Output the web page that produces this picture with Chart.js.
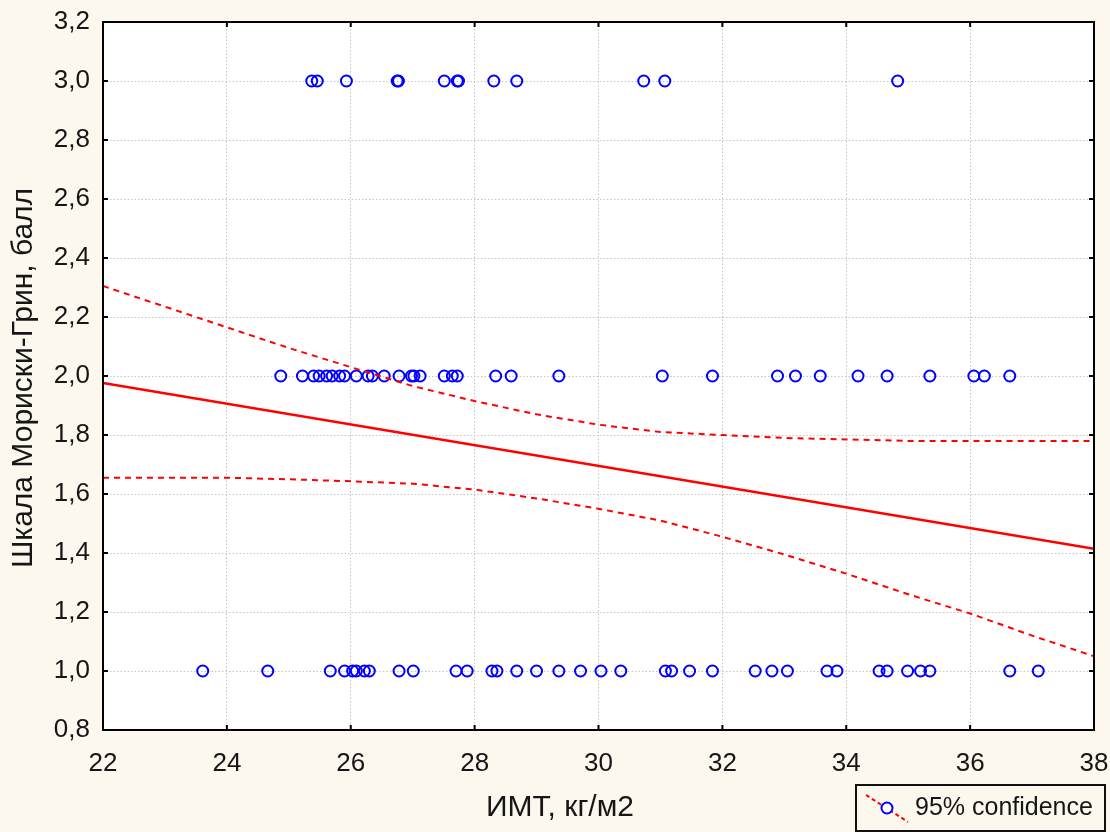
<!DOCTYPE html>
<html>
<head>
<meta charset="utf-8">
<script src="https://cdn.jsdelivr.net/npm/chart.js@4"></script>
<style>
  html, body { margin: 0; padding: 0; background: #fdf8ee; }
  #wrap { width: 1110px; height: 832px; }
</style>
</head>
<body>
<div id="wrap"><canvas id="myChart" width="1110" height="832"></canvas></div>
<script>
// BMI values of patients, grouped by Morisky-Green score
const bmiScore3 = [25.37, 25.46, 25.93, 26.75, 26.77, 27.51, 27.72, 27.74, 28.31, 28.68, 30.73, 31.07, 34.83];
const bmiScore2 = [24.87, 25.22, 25.40, 25.49, 25.61, 25.70, 25.82, 25.90, 26.09, 26.28, 26.35, 26.54, 26.78,
                   26.98, 27.02, 27.12, 27.51, 27.64, 27.72, 28.34, 28.59, 29.36, 31.03, 31.84, 32.89, 33.18,
                   33.58, 34.19, 34.66, 35.35, 36.06, 36.23, 36.64];
const bmiScore1 = [23.61, 24.66, 25.67, 25.90, 26.03, 26.09, 26.22, 26.30, 26.78, 27.01, 27.70, 27.88, 28.28,
                   28.36, 28.68, 29.00, 29.36, 29.71, 30.04, 30.36, 31.08, 31.18, 31.47, 31.84, 32.53, 32.80,
                   33.05, 33.69, 33.85, 34.53, 34.66, 34.99, 35.20, 35.35, 36.64, 37.10];

// regression line and 95% confidence band
const fitX = [22, 38];
const fitY = [1.976, 1.414];
const bandX = [22, 23, 24, 25, 26, 27, 28, 29, 30, 31, 32, 33, 34, 35, 36, 37, 38];
const upperY = [2.305, 2.235, 2.165, 2.095, 2.03, 1.966, 1.915, 1.87, 1.835, 1.81, 1.80, 1.79, 1.785, 1.78, 1.78, 1.78, 1.78];
const lowerY = [1.655, 1.655, 1.655, 1.65, 1.643, 1.635, 1.615, 1.585, 1.55, 1.51, 1.455, 1.395, 1.33, 1.26, 1.195, 1.12, 1.05];

// axis ticks
const xTicks = [22, 24, 26, 28, 30, 32, 34, 36, 38];
const yTicks = [0.8, 1.0, 1.2, 1.4, 1.6, 1.8, 2.0, 2.2, 2.4, 2.6, 2.8, 3.0, 3.2];

const xTitle = 'ИМТ, кг/м2';
const yTitle = 'Шкала Мориски-Грин, балл';
const legendText = '95% confidence';

const FONT = '"Liberation Sans", Arial, sans-serif';
const TEXT = '#161616';

const pts = (xs, y) => xs.map(x => ({ x: x, y: y }));
const line = (xs, ys) => xs.map((x, i) => ({ x: x, y: ys[i] }));

// background, frame, inner ticks, titles, legend
const decor = {
    id: 'decor',
    beforeDraw(chart) {
        const { ctx, chartArea: a } = chart;
        ctx.save();
        ctx.fillStyle = '#fdf8ee';
        ctx.fillRect(0, 0, chart.width, chart.height);
        ctx.fillStyle = '#ffffff';
        ctx.fillRect(a.left, a.top, a.right - a.left, a.bottom - a.top);
        ctx.restore();
    },
    afterDraw(chart) {
        const { ctx, chartArea: a, scales } = chart;
        ctx.save();
        ctx.strokeStyle = '#000';
        ctx.lineWidth = 2;
        ctx.strokeRect(a.left, a.top, a.right - a.left, a.bottom - a.top);

        // small inward tick marks on all four sides
        ctx.beginPath();
        scales.x.ticks.forEach((t, i) => {
            const px = scales.x.getPixelForTick(i);
            ctx.moveTo(px, a.bottom); ctx.lineTo(px, a.bottom - 5);
            ctx.moveTo(px, a.top); ctx.lineTo(px, a.top + 5);
        });
        scales.y.ticks.forEach((t, i) => {
            const py = scales.y.getPixelForTick(i);
            ctx.moveTo(a.left, py); ctx.lineTo(a.left + 5, py);
            ctx.moveTo(a.right, py); ctx.lineTo(a.right - 5, py);
        });
        ctx.stroke();

        // axis titles
        ctx.fillStyle = TEXT;
        ctx.textAlign = 'center';
        ctx.textBaseline = 'middle';
        ctx.font = '30px ' + FONT;
        ctx.fillText(xTitle, 560, 808);
        ctx.save();
        ctx.translate(24, 378);
        ctx.rotate(-Math.PI / 2);
        ctx.font = '30px ' + FONT;
        ctx.fillText(yTitle, 0, 0);
        ctx.restore();

        // legend box
        ctx.lineWidth = 2;
        ctx.strokeStyle = '#111';
        ctx.fillStyle = '#fdf8ee';
        ctx.fillRect(856, 785, 249, 46);
        ctx.strokeRect(856, 785, 249, 46);
        ctx.strokeStyle = '#ff0000';
        ctx.setLineDash([4, 3]);
        ctx.beginPath();
        ctx.moveTo(866, 795); ctx.lineTo(908, 822);
        ctx.stroke();
        ctx.setLineDash([]);
        ctx.strokeStyle = '#0000ff';
        ctx.fillStyle = '#ffffff';
        ctx.beginPath();
        ctx.arc(887, 808, 5.5, 0, Math.PI * 2);
        ctx.fill();
        ctx.stroke();
        ctx.fillStyle = TEXT;
        ctx.textAlign = 'left';
        ctx.font = '25px ' + FONT;
        ctx.fillText(legendText, 915, 808);
        ctx.restore();
    }
};

const pointStyle = {
    showLine: false,
    pointStyle: 'circle',
    pointRadius: 5.5,
    pointBorderWidth: 2,
    pointBorderColor: '#0000ff',
    pointBackgroundColor: 'rgba(255,255,255,0)'
};
const bandStyle = {
    showLine: true,
    pointRadius: 0,
    borderColor: '#ff0000',
    borderWidth: 2,
    borderDash: [6, 5],
    fill: false,
    tension: 0
};

const ctx = document.getElementById('myChart').getContext('2d');
const myChart = new Chart(ctx, {
    type: 'scatter',
    data: {
        datasets: [
            { data: line(fitX, fitY), showLine: true, pointRadius: 0, borderColor: '#ff0000', borderWidth: 2.5 },
            Object.assign({ data: line(bandX, upperY) }, bandStyle),
            Object.assign({ data: line(bandX, lowerY) }, bandStyle),
            Object.assign({ data: pts(bmiScore3, 3) }, pointStyle),
            Object.assign({ data: pts(bmiScore2, 2) }, pointStyle),
            Object.assign({ data: pts(bmiScore1, 1) }, pointStyle)
        ]
    },
    options: {
        responsive: false,
        animation: false,
        layout: { padding: { top: 22, right: 16, left: 0, bottom: 0 } },
        scales: {
            x: {
                type: 'linear',
                min: 22,
                max: 38,
                afterBuildTicks: s => { s.ticks = xTicks.map(v => ({ value: v })); },
                afterFit: s => { s.height = 102; s.paddingLeft = 0; s.paddingRight = 0; },
                grid: { color: '#c4c4c4', lineWidth: 1, drawTicks: false },
                border: { display: false, dash: [1.5, 2] },
                ticks: {
                    padding: 18,
                    color: TEXT,
                    font: { family: FONT, size: 26 },
                    maxRotation: 0,
                    callback: v => String(v)
                }
            },
            y: {
                type: 'linear',
                min: 0.8,
                max: 3.2,
                afterBuildTicks: s => { s.ticks = yTicks.map(v => ({ value: v })); },
                afterFit: s => { s.width = 103; s.paddingTop = 0; s.paddingBottom = 0; },
                grid: { color: '#c4c4c4', lineWidth: 1, drawTicks: false },
                border: { display: false, dash: [1.5, 2] },
                ticks: {
                    padding: 13,
                    color: TEXT,
                    font: { family: FONT, size: 26 },
                    callback: v => v.toFixed(1).replace('.', ',')
                }
            }
        },
        plugins: {
            legend: { display: false },
            tooltip: { enabled: false }
        }
    },
    plugins: [decor]
});
</script>
</body>
</html>
